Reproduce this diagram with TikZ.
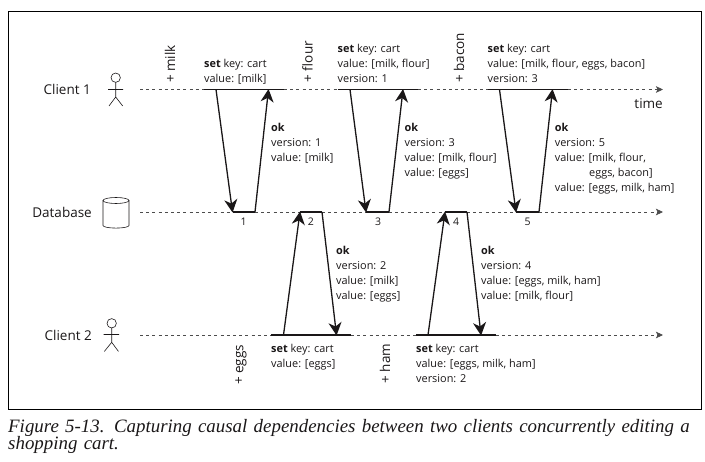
\documentclass[tikz,border=0pt]{standalone}
\usepackage{fontspec}
\setmainfont{Open Sans}
\newfontfamily\capfont{Liberation Serif}
\usetikzlibrary{arrows.meta}
\definecolor{ink}{HTML}{1A1718}
\tikzset{
  lbl/.style={font=\fontsize{10.9}{15}\selectfont, text=ink, align=left, anchor=north west, inner sep=0pt},
  num/.style={font=\fontsize{10.5}{11}\selectfont, text=ink, inner sep=0pt},
  who/.style={font=\fontsize{13.5}{15}\selectfont, text=ink, inner sep=0pt},
  add/.style={font=\fontsize{13.5}{15}\selectfont, text=ink, inner sep=0pt, rotate=90},
  timeline/.style={dash pattern=on 3pt off 3.2pt, line width=0.7pt, draw=black!70},
  busy/.style={line width=1.3pt, draw=ink},
  msg/.style={line width=1.3pt, draw=ink, -{Stealth[length=13pt,width=13pt,inset=4pt]}, shorten >=-0.5pt},
  figure/.style={line width=0.6pt, draw=ink},
  tip/.style={-{Stealth[length=7pt,width=6.5pt,inset=1.5pt]}}
}
\begin{document}
\begin{tikzpicture}[x=1pt,y=-1pt]
\useasboundingbox (0,0) rectangle (705,462);
\node[draw=black, line width=0.9pt, minimum width=693pt, minimum height=398pt, anchor=north west, inner sep=0pt] (frame) at (7.5,11) {};

% coordinates
\foreach \n/\x in {a/204,b/284,c/337.5,d/418,e/487.5,f/568,s/140,t/663}{\coordinate (c1\n) at (\x,89.5);}
\foreach \n/\x in {a/232.5,b/255,c/300,d/322,e/366,f/389,g/445,h/467,i/516,j/539,s/140,t/663}{\coordinate (db\n) at (\x,212);}
\foreach \n/\x in {a/271,b/351,c/416,d/496,s/140,t/663}{\coordinate (c2\n) at (\x,335);}
\foreach \n/\x in {p/216,q/268.5,r/350,u/403,v/499.5,w/552.5}{\coordinate (m\n) at (\x,89.5);}
\foreach \n/\x in {p/283.5,q/336.5,r/428,u/481}{\coordinate (k\n) at (\x,335);}

% timelines
\draw[timeline] (c1s) -- (c1a) (c1b) -- (c1c) (c1d) -- (c1e);
\draw[timeline,tip] (c1f) -- (c1t);
\draw[timeline] (dbs) -- (dba) (dbb) -- (dbc) (dbd) -- (dbe) (dbf) -- (dbg) (dbh) -- (dbi);
\draw[timeline,tip] (dbj) -- (dbt);
\draw[timeline] (c2s) -- (c2a) (c2b) -- (c2c);
\draw[timeline,tip] (c2d) -- (c2t);
\draw[busy] (c1a) -- (c1b) (c1c) -- (c1d) (c1e) -- (c1f);
\draw[busy] (dba) -- (dbb) (dbc) -- (dbd) (dbe) -- (dbf) (dbg) -- (dbh) (dbi) -- (dbj);
\draw[busy] (c2a) -- (c2b) (c2c) -- (c2d);

% messages
\draw[msg] (mp) -- (dba);
\draw[msg] (dbb) -- (mq);
\draw[msg] (mr) -- (dbe);
\draw[msg] (dbf) -- (mu);
\draw[msg] (mv) -- (dbi);
\draw[msg] (dbj) -- (mw);
\draw[msg] (kp) -- (dbc);
\draw[msg] (dbd) -- (kq);
\draw[msg] (kr) -- (dbg);
\draw[msg] (dbh) -- (ku);

% actors
\node[who, anchor=east] (n1) at (91,89) {Client 1};
\node[who, anchor=east] (n2) at (92,212) {Database};
\node[who, anchor=east] (n3) at (92,335) {Client 2};

\draw[figure] (115.7,77.7) circle (4.7);
\draw[figure] (115.7,82.4) -- (115.7,97) (108,89.5) -- (123,89.5) (109,106) -- (115.7,97) -- (122.7,106);
\draw[figure] (111.7,323.3) circle (4.7);
\draw[figure] (111.7,328) -- (111.7,342.3) (103.5,334.5) -- (119,334.5) (104.3,351.5) -- (111.7,342.3) -- (118.5,351.5);

% database
\draw[line width=0.6pt, draw=ink] (103,200.5) -- (103,225.5) arc[start angle=180,end angle=0,x radius=13,y radius=2.6] -- (129,200.5);
\draw[line width=0.6pt, draw=ink] (116,200.5) ellipse [x radius=13,y radius=3];

% additions
\node[add, anchor=west] (milk) at (170,83) {+ milk};
\node[add, anchor=west] (flour) at (307.5,82.5) {+ flour};
\node[add, anchor=west] (bacon) at (459,83) {+ bacon};
\node[add, anchor=west] (eggs) at (241,385) {+ eggs};
\node[add, anchor=west] (ham) at (385,383.5) {+ ham};
\node[who, anchor=east] (time) at (663,104) {time};

% set labels
\node[lbl] (l1) at (204,58.7) {\textbf{set} key: cart\\value: [milk]};
\node[lbl] (l2) at (337.5,43.7) {\textbf{set} key: cart\\value: [milk, flour]\\version: 1};
\node[lbl] (l3) at (487.5,43.7) {\textbf{set} key: cart\\value: [milk, flour, eggs, bacon]\\version: 3};
\node[lbl] (l4) at (271,343.7) {\textbf{set} key: cart\\value: [eggs]};
\node[lbl] (l5) at (416,343.7) {\textbf{set} key: cart\\value: [eggs, milk, ham]\\version: 2};

% ok labels
\node[lbl] (o1) at (271,122.7) {\textbf{ok}\\version: 1\\value: [milk]};
\node[lbl] (o3) at (404.5,122.7) {\textbf{ok}\\version: 3\\value: [milk, flour]\\value: [eggs]};
\node[lbl] (o5) at (554.7,122.7) {\textbf{ok}\\version: 5\\value: [milk, flour,\\\hspace*{34.3pt}eggs, bacon]\\value: [eggs, milk, ham]};
\node[lbl] (o2) at (336,245.7) {\textbf{ok}\\version: 2\\value: [milk]\\value: [eggs]};
\node[lbl] (o4) at (481,245.7) {\textbf{ok}\\version: 4\\value: [eggs, milk, ham]\\value: [milk, flour]};

% versions
\node[num] (v1) at (243.5,222) {1};
\node[num] (v2) at (311,222) {2};
\node[num] (v3) at (378,222) {3};
\node[num] (v4) at (456,222) {4};
\node[num] (v5) at (527.5,222) {5};

% caption
\node[font=\capfont\itshape\fontsize{18.9}{17.5}\selectfont, text=ink, align=left, anchor=north west, inner sep=0pt, text width=695pt] (cap) at (8,419) {Figure 5-13. Capturing causal dependencies between two clients concurrently editing a\\shopping cart.};
\end{tikzpicture}
\end{document}
